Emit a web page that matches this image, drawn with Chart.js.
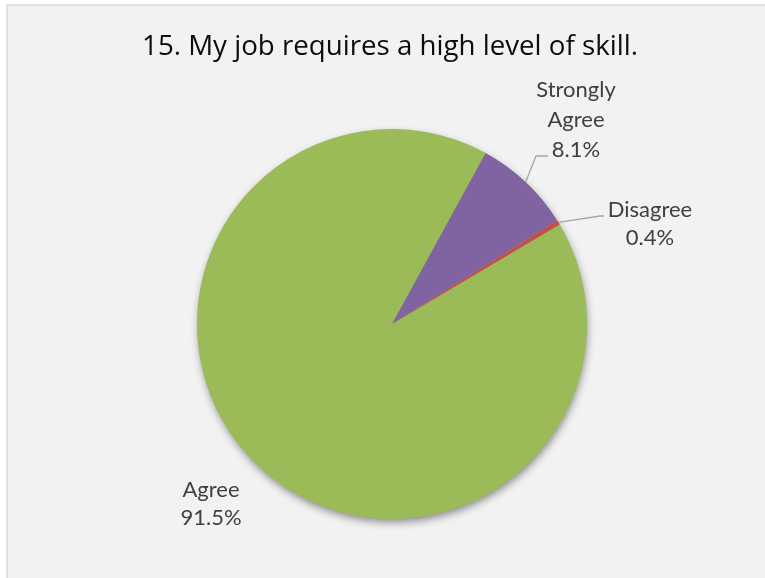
<!DOCTYPE html>
<html>
<head>
<meta charset="utf-8">
<script src="https://cdn.jsdelivr.net/npm/chart.js@4"></script>
<style>
  body { margin: 0; background: #fff; }
  #wrap { width: 765px; height: 578px; }
</style>
</head>
<body>
<div id="wrap"><canvas id="myChart" width="765" height="578"></canvas></div>
<script>
var ctx = document.getElementById('myChart').getContext('2d');

// survey answers, clockwise from the first slice
var categories = ['Agree', 'Strongly Agree', 'Disagree'];
var shares = [91.5, 8.1, 0.4];
var sliceColors = ['#9BBB59', '#8064A2', '#C0504D'];
var labelLines = [['Agree', '91.5%'], ['Strongly', 'Agree', '8.1%'], ['Disagree', '0.4%']];
var chartTitle = '15. My job requires a high level of skill.';

// where each label block sits and its leader elbow (null = no leader)
var labelSpots = [
  { x: 211, y: 490, step: 28, elbow: null },
  { x: 576, y: 90, step: 30, elbow: [[536, 156], [548, 156]] },
  { x: 650, y: 210, step: 28, elbow: [[600, 216], [604, 216]] }
];

var FONT = 'Lato, "Open Sans", sans-serif';

var frame = {
  id: 'frame',
  beforeDraw: function(chart) {
    var c = chart.ctx;
    c.save();
    c.fillStyle = '#ffffff';
    c.fillRect(0, 0, chart.width, chart.height);
    c.fillStyle = '#F2F2F2';
    c.fillRect(7, 5, chart.width, chart.height);
    c.strokeStyle = '#D9D9D9';
    c.lineWidth = 1.5;
    c.beginPath();
    c.moveTo(7, chart.height + 2);
    c.lineTo(7, 5);
    c.lineTo(chart.width + 2, 5);
    c.stroke();

    // title, stretched a little to span ~497px like the original layout
    c.fillStyle = '#0D0D0D';
    c.font = '30px "Open Sans", Lato, sans-serif';
    c.textAlign = 'center';
    c.textBaseline = 'alphabetic';
    var w = c.measureText(chartTitle).width;
    var size = Math.min(34, 30 * 497 / w);
    c.font = size.toFixed(1) + 'px "Open Sans", Lato, sans-serif';
    c.fillText(chartTitle, 390, 55);
    c.restore();
  },
  beforeDatasetsDraw: function(chart) {
    // soft drop shadow under the whole pie
    var arc = chart.getDatasetMeta(0).data[0];
    if (!arc) return;
    var c = chart.ctx;
    c.save();
    c.shadowColor = 'rgba(0,0,0,0.45)';
    c.shadowBlur = 9;
    c.shadowOffsetX = 1;
    c.shadowOffsetY = 4;
    c.fillStyle = '#9BBB59';
    c.beginPath();
    c.arc(arc.x, arc.y, arc.outerRadius - 1, 0, Math.PI * 2);
    c.fill();
    c.restore();
  }
};

var sliceLabels = {
  id: 'sliceLabels',
  afterDatasetsDraw: function(chart) {
    var c = chart.ctx;
    var meta = chart.getDatasetMeta(0);
    c.save();
    meta.data.forEach(function(arc, i) {
      var spot = labelSpots[i];
      if (spot.elbow) {
        var mid = (arc.startAngle + arc.endAngle) / 2;
        var sx = arc.x + Math.cos(mid) * arc.outerRadius;
        var sy = arc.y + Math.sin(mid) * arc.outerRadius;
        c.strokeStyle = '#A6A6A6';
        c.lineWidth = 1.3;
        c.beginPath();
        c.moveTo(sx, sy);
        spot.elbow.forEach(function(p) { c.lineTo(p[0], p[1]); });
        c.stroke();
      }
      c.fillStyle = '#404040';
      c.font = '22px ' + FONT;
      c.textAlign = 'center';
      c.textBaseline = 'middle';
      labelLines[i].forEach(function(t, k) {
        c.fillText(t, spot.x, spot.y + k * spot.step);
      });
    });
    c.restore();
  }
};

var chart = new Chart(ctx, {
  type: 'pie',
  data: {
    labels: categories,
    datasets: [{
      data: shares,
      backgroundColor: sliceColors,
      borderWidth: 0,
      hoverOffset: 0
    }]
  },
  options: {
    responsive: false,
    animation: false,
    rotation: 59.3,
    layout: { padding: { left: 197, right: 178, top: 129, bottom: 59 } },
    plugins: {
      legend: { display: false },
      tooltip: { enabled: false },
      title: { display: false }
    }
  },
  plugins: [frame, sliceLabels]
});
</script>
</body>
</html>
